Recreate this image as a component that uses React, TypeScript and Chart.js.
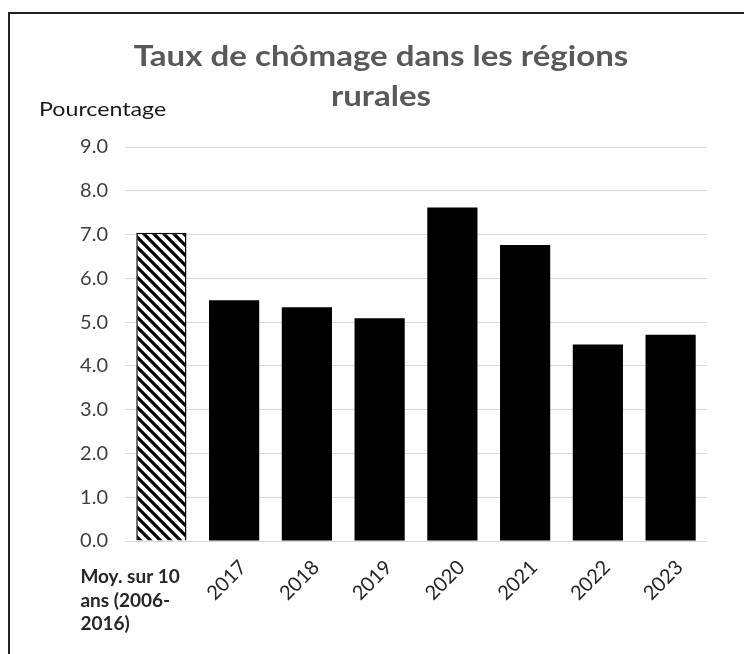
import React, { useEffect, useRef } from "react";
import { Chart, registerables } from "chart.js";

Chart.register(...registerables);

const titleLines = ["Taux de chômage dans les régions", "rurales"];
const yAxisLabel = "Pourcentage";
const categories = ["Moy. sur 10 ans (2006-2016)", "2017", "2018", "2019", "2020", "2021", "2022", "2023"];
const firstCategoryLines = ["Moy. sur 10", "ans (2006-", "2016)"];
const rates = [7.04, 5.5, 5.34, 5.09, 7.62, 6.76, 4.49, 4.71];
const yMin = 0;
const yMax = 9;
const yStep = 1;

const FONT = "Lato, 'Open Sans', sans-serif";

function makeHatch(): CanvasPattern | string {
  const c = document.createElement("canvas");
  const s = 10;
  c.width = s;
  c.height = s;
  const g = c.getContext("2d");
  if (!g) return "#000";
  g.fillStyle = "#fff";
  g.fillRect(0, 0, s, s);
  g.strokeStyle = "#000";
  g.lineWidth = 3.2;
  g.beginPath();
  g.moveTo(-2, -2);
  g.lineTo(s + 2, s + 2);
  g.moveTo(-2 - s, -2);
  g.lineTo(2, s + 2);
  g.moveTo(s - 2, -2);
  g.lineTo(2 * s + 2, s + 2);
  g.stroke();
  const p = g.createPattern(c, "repeat");
  return p || "#000";
}

function drawScaled(ctx: CanvasRenderingContext2D, text: string, x: number, y: number, sx: number) {
  ctx.save();
  ctx.translate(x, y);
  ctx.scale(sx, 1);
  ctx.fillText(text, 0, 0);
  ctx.restore();
}

const decorPlugin = {
  id: "decor",
  afterDraw(chart: any) {
    const ctx = chart.ctx as CanvasRenderingContext2D;
    const xs = chart.scales.x;
    const ys = chart.scales.y;
    const area = chart.chartArea;
    ctx.save();
    // frame
    ctx.strokeStyle = "#222";
    ctx.lineWidth = 2;
    ctx.beginPath();
    ctx.moveTo(9, chart.height);
    ctx.lineTo(9, 13);
    ctx.lineTo(chart.width, 13);
    ctx.stroke();

    // title
    ctx.fillStyle = "#595959";
    ctx.font = `bold 28px ${FONT}`;
    ctx.textAlign = "center";
    ctx.textBaseline = "middle";
    titleLines.forEach((t, i) => drawScaled(ctx, t, 381, 57 + i * 40, 1.18));

    // axis label
    ctx.fillStyle = "#1a1a1a";
    ctx.font = `20px ${FONT}`;
    ctx.textAlign = "left";
    ctx.textBaseline = "alphabetic";
    drawScaled(ctx, yAxisLabel, 39, 116, 1.16);

    // y tick labels
    ctx.fillStyle = "#404040";
    ctx.font = `20px ${FONT}`;
    ctx.textAlign = "right";
    ctx.textBaseline = "middle";
    ys.ticks.forEach((t: any) => {
      const py = ys.getPixelForValue(t.value);
      drawScaled(ctx, Number(t.value).toFixed(1), area.left - 17, py, 1.0);
    });

    // x labels
    ctx.fillStyle = "#262626";
    for (let i = 0; i < categories.length; i++) {
      const cx = xs.getPixelForValue(i);
      if (i === 0) {
        ctx.font = `bold 19px ${FONT}`;
        ctx.textAlign = "left";
        ctx.textBaseline = "middle";
        firstCategoryLines.forEach((t, j) => ctx.fillText(t, cx - 81, area.bottom + 36 + j * 23.5));
      } else {
        ctx.font = `20px ${FONT}`;
        ctx.save();
        ctx.translate(cx + 9, area.bottom + 23);
        ctx.rotate(-Math.PI / 4);
        ctx.textAlign = "right";
        ctx.textBaseline = "middle";
        ctx.fillText(categories[i], 0, 0);
        ctx.restore();
      }
    }
    ctx.restore();
  },
};

export default function App() {
  const ref = useRef<HTMLCanvasElement | null>(null);
  useEffect(() => {
    if (!ref.current) return;
    const hatch = makeHatch();
    const chart = new Chart(ref.current, {
      type: "bar",
      data: {
        labels: categories,
        datasets: [
          {
            data: rates,
            backgroundColor: rates.map((_, i) => (i === 0 ? hatch : "#000")),
            borderColor: "#000",
            borderWidth: rates.map((_, i) => (i === 0 ? 1.5 : 0)),
            barPercentage: 0.69,
            categoryPercentage: 1,
          },
        ],
      },
      options: {
        responsive: false,
        animation: false,
        devicePixelRatio: 1,
        layout: { padding: { top: 147, left: 0, right: 37, bottom: 113 } },
        plugins: {
          legend: { display: false },
          tooltip: { enabled: false },
          title: { display: false },
        },
        scales: {
          x: {
            grid: { display: false },
            border: { display: false },
            ticks: { display: false },
            afterFit: (s: any) => {
              s.height = 0;
            },
          },
          y: {
            min: yMin,
            max: yMax,
            ticks: {
              stepSize: yStep,
              display: false,
            },
            grid: { color: "#d9d9d9", lineWidth: 1, drawTicks: false },
            border: { display: false },
            afterFit: (s: any) => {
              s.width = 125;
            },
          },
        },
      },
      plugins: [decorPlugin],
    });
    return () => chart.destroy();
  }, []);
  return (
    <div style={{ position: "absolute", left: 0, top: 0, width: 744, height: 654, background: "#fff" }}>
      <canvas ref={ref} width={744} height={654} style={{ width: 744, height: 654, display: "block" }} />
    </div>
  );
}
